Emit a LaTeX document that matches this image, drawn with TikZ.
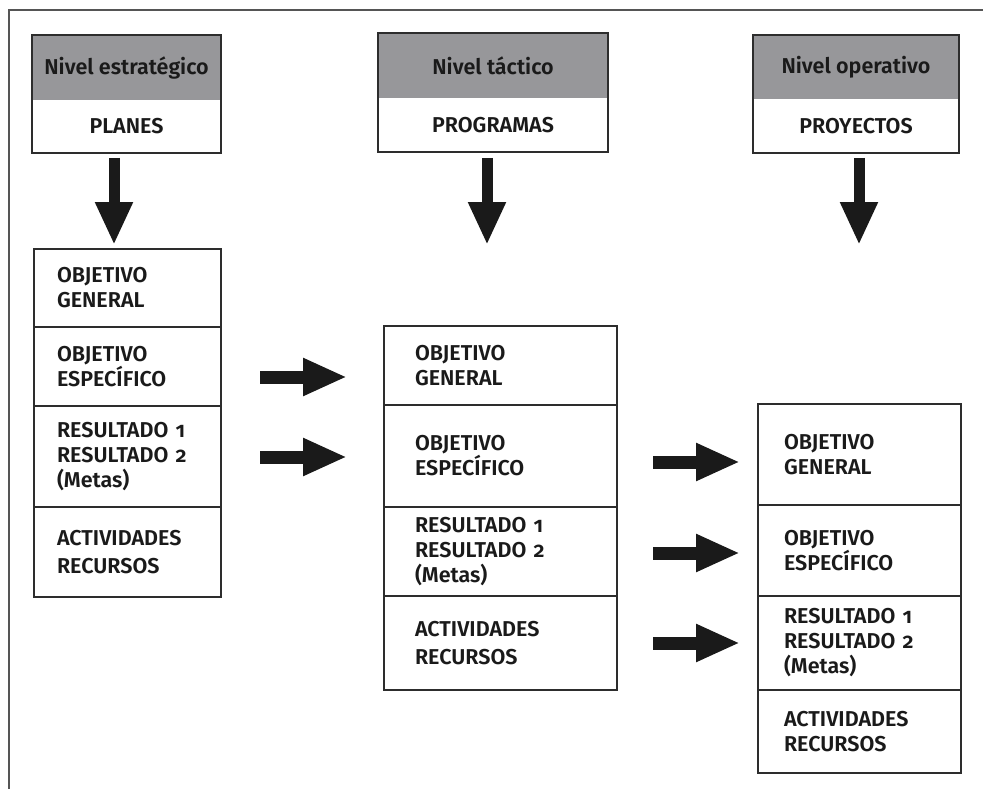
\documentclass[tikz,border=0pt]{standalone}
\usepackage{fontspec}
\setmainfont{Fira Sans}[BoldFont={Fira Sans SemiBold}, Numbers=OldStyle]
\usetikzlibrary{arrows.meta,calc}
\definecolor{band}{RGB}{151,151,154}
\definecolor{ink}{RGB}{26,26,26}
\definecolor{edge}{RGB}{45,45,45}
\definecolor{framecol}{RGB}{85,85,85}

\begin{document}
\begin{tikzpicture}[x=1pt,y=-1pt,
  cellfont/.style={font=\bfseries\fontsize{21.5}{25}\selectfont, text=ink},
  cell/.style n args={3}{cellfont, draw=edge, line width=1.2pt, rectangle,
    anchor=north west, text width=#1, inner xsep=#2, inner ysep=0pt,
    outer sep=0pt, minimum height=#3, align=left},
  headtop/.style 2 args={rectangle, anchor=north west, fill=band, inner sep=0pt,
    outer sep=0pt, minimum width=#1, minimum height=#2, text=ink,
    font=\bfseries\fontsize{21.5}{25}\selectfont},
  headlow/.style 2 args={rectangle, anchor=north west, fill=white, inner sep=0pt,
    outer sep=0pt, minimum width=#1, minimum height=#2, text=ink,
    font=\bfseries\fontsize{21.5}{25}\selectfont},
  headframe/.style={draw=edge, line width=1.2pt},
  downarrow/.style={draw=ink, line width=11pt,
    -{Triangle[width=35pt,length=43pt]}},
  sidearrow/.style={draw=ink, line width=13pt,
    -{Triangle[width=35pt,length=44pt]}},
]
\useasboundingbox (0,0) rectangle (983,789);

% page frame (open to the right and bottom)
\draw[framecol, line width=1.6pt] (9,789) -- (9,10) -- (983,10);

% level headers
\node[headtop={189pt}{65pt}] (h1t) at (32,35) {Nivel estratégico};
\node[headlow={189pt}{53pt}] (h1b) at (h1t.south west) {PLANES};
\draw[headframe] (h1t.north west) rectangle (h1b.south east);

\node[headtop={230pt}{65pt}] (h2t) at (378,33) {Nivel táctico};
\node[headlow={230pt}{54pt}] (h2b) at (h2t.south west) {PROGRAMAS};
\draw[headframe] (h2t.north west) rectangle (h2b.south east);

\node[headtop={206pt}{64pt}] (h3t) at (753,35) {Nivel operativo};
\node[headlow={206pt}{54pt}] (h3b) at (h3t.south west) {PROYECTOS};
\draw[headframe] (h3t.north west) rectangle (h3b.south east);

% strategic stack
\node[cell={141pt}{23pt}{78pt}] (l1) at (34,249) {OBJETIVO\\GENERAL};
\node[cell={141pt}{23pt}{79pt}] (l2) at (l1.south west) {OBJETIVO\\ESPECÍFICO};
\node[cell={141pt}{23pt}{101pt}] (l3) at (l2.south west) {RESULTADO 1\\RESULTADO 2\\(Metas)};
\node[cell={141pt}{23pt}{90pt}] (l4) at (l3.south west) {ACTIVIDADES\\[3pt]RECURSOS};

% tactical stack
\node[cell={171pt}{31pt}{79pt}] (m1) at (384,326) {OBJETIVO\\GENERAL};
\node[cell={171pt}{31pt}{102pt}] (m2) at (m1.south west) {OBJETIVO\\ESPECÍFICO};
\node[cell={171pt}{31pt}{89pt}] (m3) at (m2.south west) {RESULTADO 1\\RESULTADO 2\\(Metas)};
\node[cell={171pt}{31pt}{94pt}] (m4) at (m3.south west) {ACTIVIDADES\\[3pt]RECURSOS};

% operational stack
\node[cell={151pt}{26pt}{101pt}] (r1) at (758,404) {OBJETIVO\\GENERAL};
\node[cell={151pt}{26pt}{91pt}] (r2) at (r1.south west) {OBJETIVO\\ESPECÍFICO};
\node[cell={151pt}{26pt}{94pt}] (r3) at (r2.south west) {RESULTADO 1\\RESULTADO 2\\(Metas)};
\node[cell={151pt}{26pt}{83pt}] (r4) at (r3.south west) {ACTIVIDADES\\RECURSOS};

% downward arrows under the headers
\draw[downarrow] ($(h1b.south)+(-12.5,5)$) -- ($(l1.north)+(-13.5,-4)$);
\draw[downarrow] ($(h2b.south)+(-6,6)$) -- ($(h2b.south)+(-6,93)$);
\draw[downarrow] ($(h3b.south)+(3,5)$) -- ($(h3b.south)+(3,92)$);

% strategic -> tactical
\draw[sidearrow] ($(l2.east)+(39,10.5)$) -- ($(m1.west)+(-37,11.5)$);
\draw[sidearrow] ($(l3.east)+(39,0.5)$) -- ($(m2.west)+(-37,1)$);

% tactical -> operational
\draw[sidearrow] ($(m2.east)+(36,6)$) -- ($(r1.west)+(-18,7.5)$);
\draw[sidearrow] ($(m3.east)+(36,1.5)$) -- ($(r2.west)+(-18,2.5)$);
\draw[sidearrow] ($(m4.east)+(36,0)$) -- ($(r3.west)+(-18,0)$);
\end{tikzpicture}
\end{document}
